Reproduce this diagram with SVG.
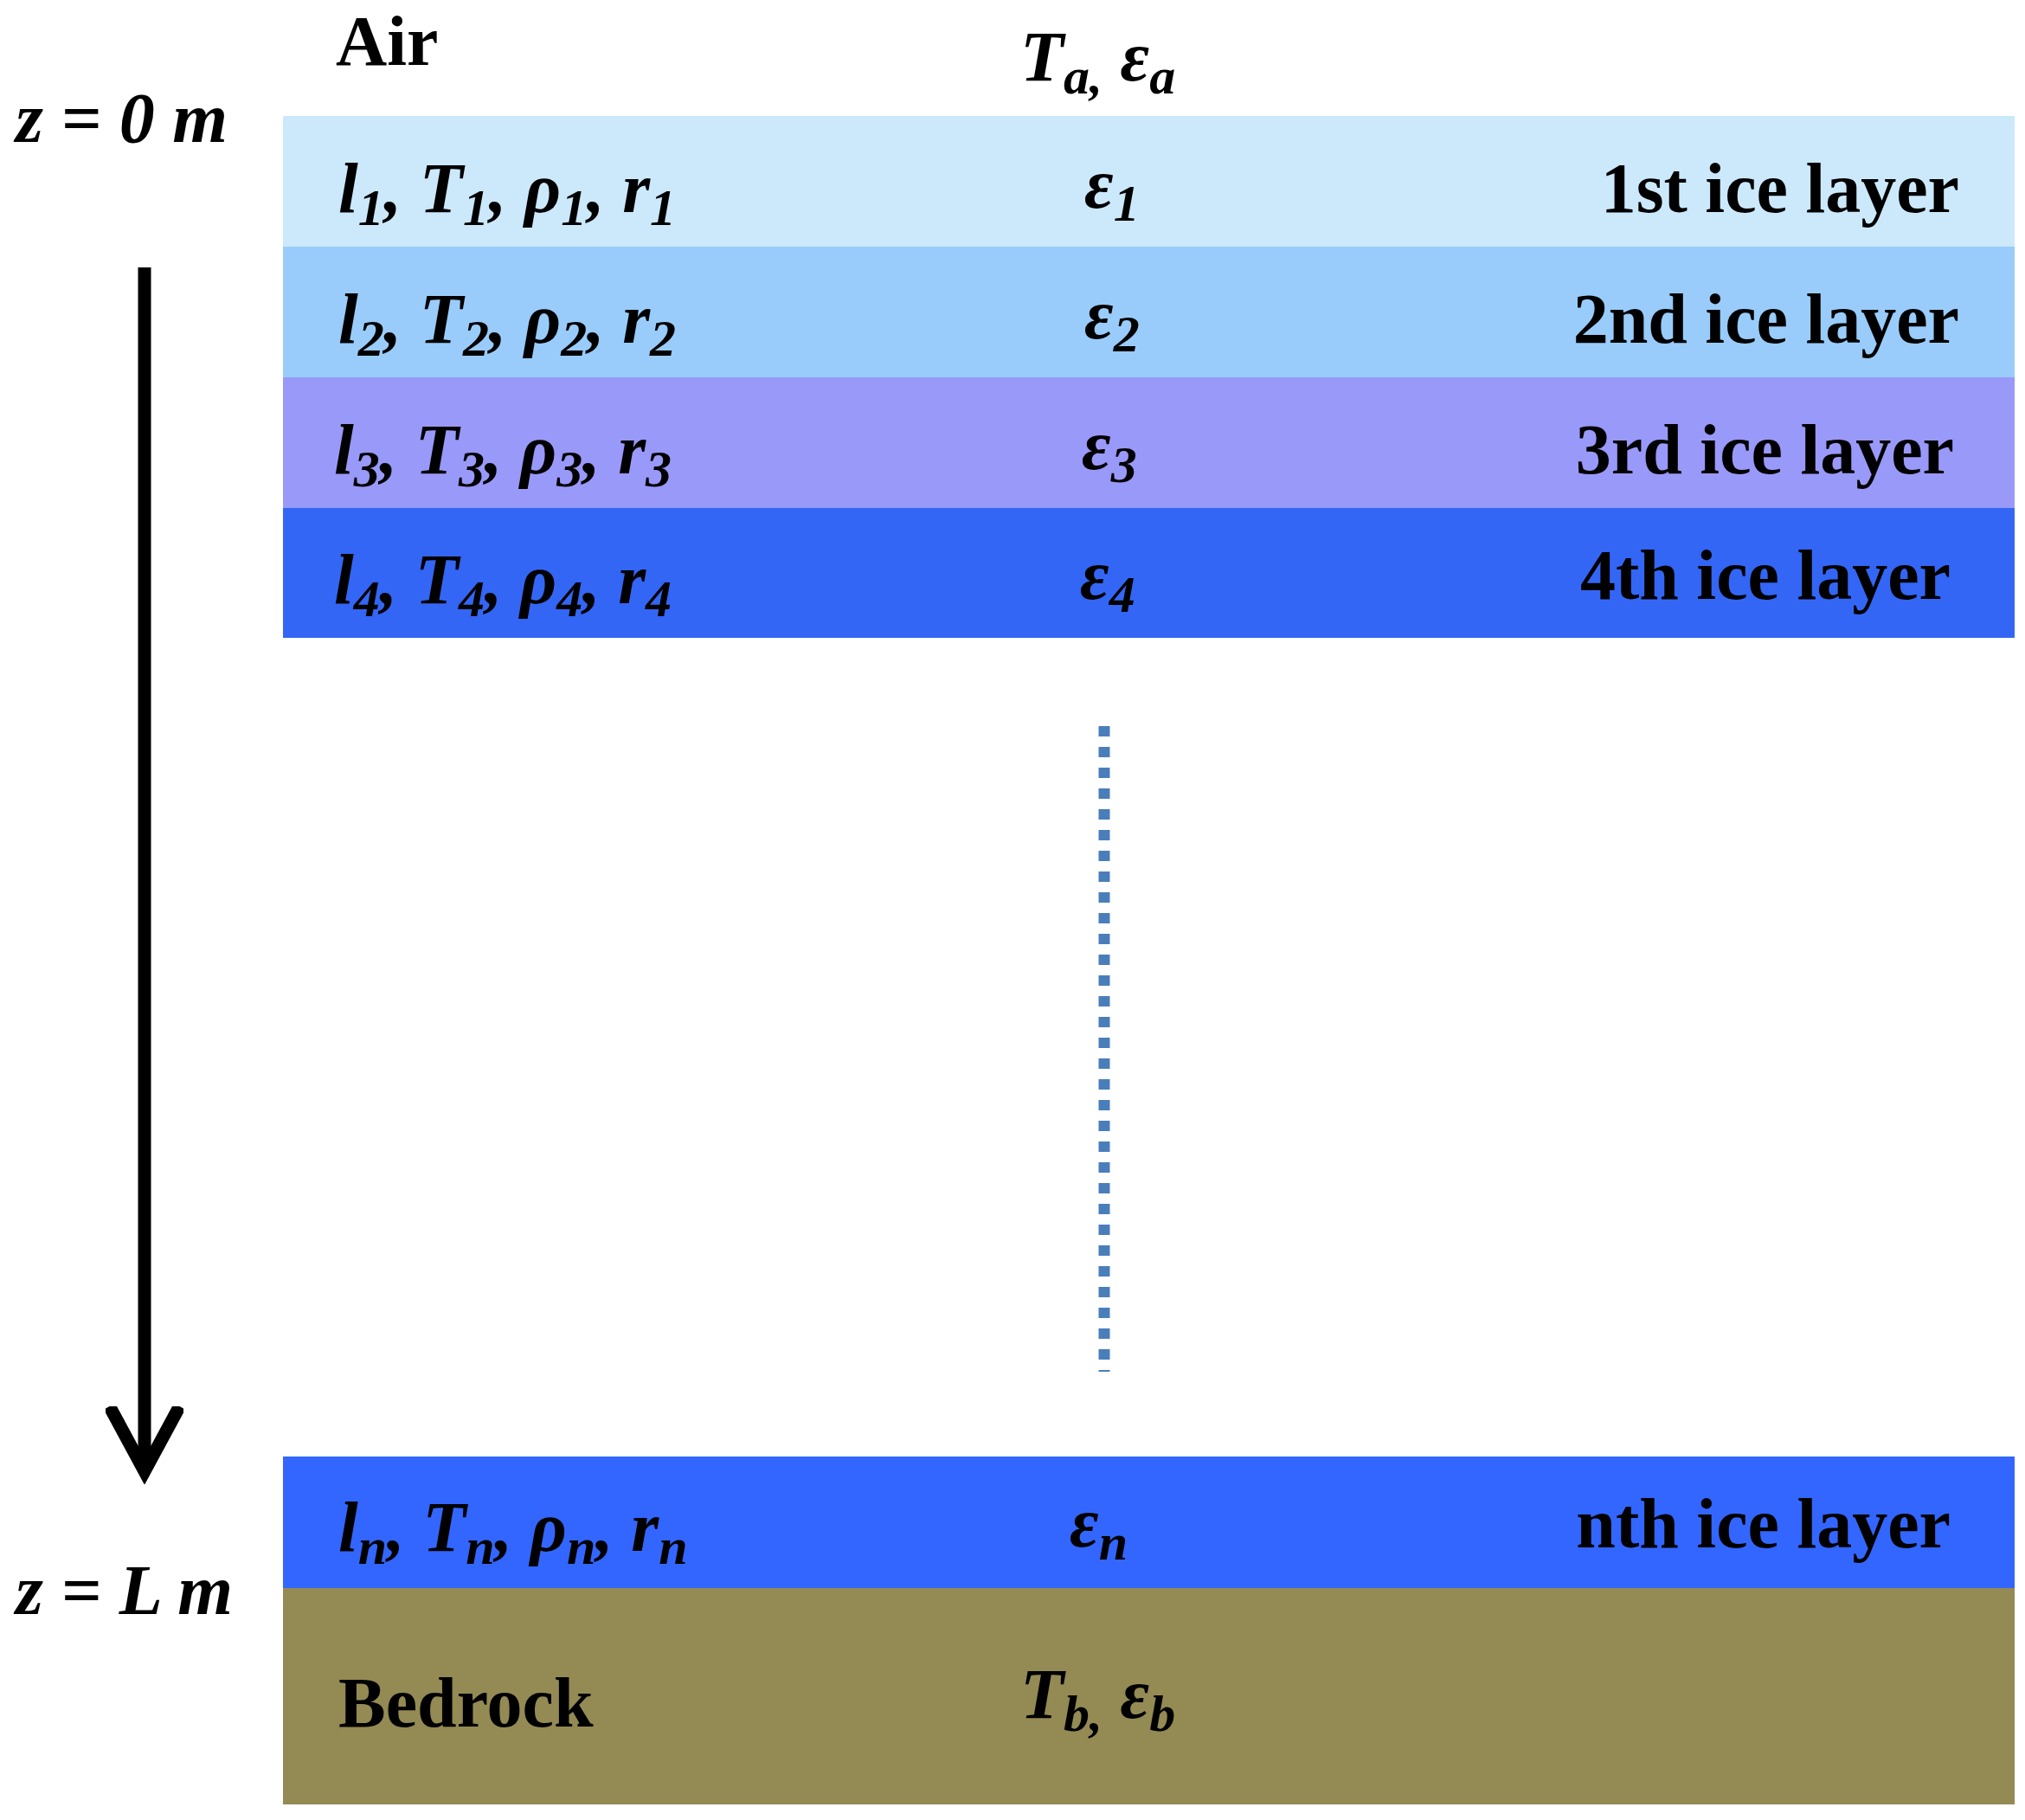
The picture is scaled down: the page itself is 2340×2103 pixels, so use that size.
<svg xmlns="http://www.w3.org/2000/svg" width="2340" height="2103" viewBox="0 0 2340 2103">
<style>
text{font-family:"Liberation Serif","Times New Roman",serif;font-weight:bold;font-size:82px;fill:#000}
.i{font-style:italic}
.s{font-size:60px}
</style>
<defs>
<marker id="ah" markerWidth="6" markerHeight="6" refX="5" refY="3" orient="auto" markerUnits="strokeWidth"><path d="M0,0.3 L5,3 L0,5.7" fill="none" stroke="#000" stroke-width="1"/></marker>
</defs>
<rect width="2340" height="2103" fill="#fff"/>
<g id="air"><text x="388" y="75">Air</text><text class="i" x="1179" y="93">T<tspan class="s" dy="15">a,</tspan><tspan dy="-15"> ε</tspan><tspan class="s" dy="15">a</tspan></text></g>
<g id="z0"><text class="i" x="18" y="164">z = 0 m</text></g>
<g id="layer1"><rect x="327" y="134" width="2001" height="151" fill="#cce9fc"/><text class="i" x="391" y="245">l<tspan class="s" dy="15">1</tspan><tspan dy="-15">, T</tspan><tspan class="s" dy="15">1</tspan><tspan dy="-15">, ρ</tspan><tspan class="s" dy="15">1</tspan><tspan dy="-15">, r</tspan><tspan class="s" dy="15">1</tspan></text><text class="i" x="1253" y="240">ε<tspan class="s" dy="15">1</tspan></text><text x="2264" y="245" text-anchor="end">1st  ice layer</text></g>
<g id="layer2"><rect x="327" y="285" width="2001" height="151" fill="#99ccfa"/><text class="i" x="391" y="396">l<tspan class="s" dy="15">2</tspan><tspan dy="-15">, T</tspan><tspan class="s" dy="15">2</tspan><tspan dy="-15">, ρ</tspan><tspan class="s" dy="15">2</tspan><tspan dy="-15">, r</tspan><tspan class="s" dy="15">2</tspan></text><text class="i" x="1253" y="391">ε<tspan class="s" dy="15">2</tspan></text><text x="2264" y="396" text-anchor="end">2nd ice layer</text></g>
<g id="layer3"><rect x="327" y="436" width="2001" height="151" fill="#9999fa"/><text class="i" x="386" y="547">l<tspan class="s" dy="15">3</tspan><tspan dy="-15">, T</tspan><tspan class="s" dy="15">3</tspan><tspan dy="-15">, ρ</tspan><tspan class="s" dy="15">3</tspan><tspan dy="-15">, r</tspan><tspan class="s" dy="15">3</tspan></text><text class="i" x="1250" y="542">ε<tspan class="s" dy="15">3</tspan></text><text x="2258" y="547" text-anchor="end">3rd ice layer</text></g>
<g id="layer4"><rect x="327" y="587" width="2001" height="150" fill="#3366f5"/><text class="i" x="386" y="697">l<tspan class="s" dy="15">4</tspan><tspan dy="-15">, T</tspan><tspan class="s" dy="15">4</tspan><tspan dy="-15">, ρ</tspan><tspan class="s" dy="15">4</tspan><tspan dy="-15">, r</tspan><tspan class="s" dy="15">4</tspan></text><text class="i" x="1248" y="692">ε<tspan class="s" dy="15">4</tspan></text><text x="2254" y="692" text-anchor="end">4th ice layer</text></g>
<g id="connectors">
<line x1="167" y1="309" x2="167" y2="1700" stroke="#000" stroke-width="15" marker-end="url(#ah)"/>
<line x1="1276" y1="839" x2="1276" y2="1585" stroke="#4a7ebb" stroke-width="13" stroke-dasharray="12 12"/>
</g>
<g id="layern"><rect x="327" y="1683" width="2001" height="152" fill="#3366ff"/><text class="i" x="391" y="1792">l<tspan class="s" dy="15">n</tspan><tspan dy="-15">, T</tspan><tspan class="s" dy="15">n</tspan><tspan dy="-15">, ρ</tspan><tspan class="s" dy="15">n</tspan><tspan dy="-15">, r</tspan><tspan class="s" dy="15">n</tspan></text><text class="i" x="1236" y="1787">ε<tspan class="s" dy="15">n</tspan></text><text x="2254" y="1788" text-anchor="end">nth  ice layer</text></g>
<g id="zL"><text class="i" x="18" y="1865">z = L m</text></g>
<g id="bedrock"><rect x="327" y="1835" width="2001" height="250" fill="#948a54"/><text x="391" y="1995">Bedrock</text><text class="i" x="1179" y="1985">T<tspan class="s" dy="15">b,</tspan><tspan dy="-15"> ε</tspan><tspan class="s" dy="15">b</tspan></text></g>
</svg>
